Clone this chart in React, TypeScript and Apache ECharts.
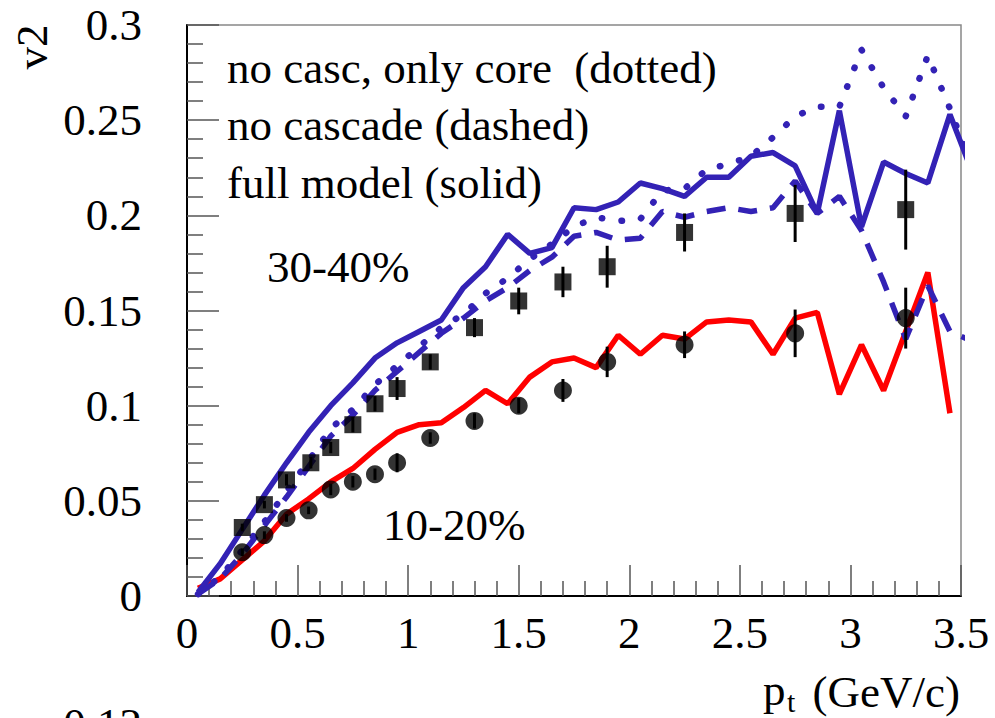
import React, { useEffect, useRef } from "react";
import * as echarts from "echarts";

// bin centres of the model histograms (GeV/c)
const binCenters = [
  0.05, 0.15, 0.25, 0.35, 0.45, 0.55, 0.65, 0.75, 0.85, 0.95,
  1.05, 1.15, 1.25, 1.35, 1.45, 1.55, 1.65, 1.75, 1.85, 1.95,
  2.05, 2.15, 2.25, 2.35, 2.45, 2.55, 2.65, 2.75, 2.85, 2.95,
  3.05, 3.15, 3.25, 3.35, 3.45, 3.55,
];

// 30-40% full model (solid blue)
const fullModel3040 = [
  0.002, 0.017, 0.035, 0.053, 0.070, 0.086, 0.100, 0.112, 0.125, 0.133,
  0.139, 0.145, 0.162, 0.173, 0.190, 0.180, 0.183, 0.204, 0.203, 0.207,
  0.217, 0.214, 0.210, 0.220, 0.220, 0.231, 0.233, 0.226, 0.201, 0.255,
  0.194, 0.228, 0.222, 0.217, 0.253, 0.223,
];

// 30-40% no cascade (dashed blue)
const noCascade3040 = [
  0.001, 0.009, 0.022, 0.037, 0.052, 0.068, 0.084, 0.095, 0.108, 0.118,
  0.128, 0.138, 0.146, 0.155, 0.162, 0.171, 0.178, 0.189, 0.191, 0.187,
  0.188, 0.202, 0.199, 0.202, 0.204, 0.202, 0.204, 0.218, 0.201, 0.210,
  0.192, 0.165, 0.135, 0.163, 0.139, 0.134,
];

// 30-40% no cascade, only core (dotted blue)
const onlyCore3040 = [
  0.001, 0.010, 0.024, 0.039, 0.055, 0.071, 0.088, 0.098, 0.111, 0.121,
  0.131, 0.141, 0.148, 0.159, 0.167, 0.177, 0.185, 0.194, 0.199, 0.197,
  0.198, 0.213, 0.214, 0.224, 0.227, 0.231, 0.241, 0.252, 0.257, 0.257,
  0.287, 0.267, 0.252, 0.284, 0.256, 0.225,
];

// 10-20% full model (solid red)
const fullModel1020 = [
  0.004, 0.009, 0.019, 0.029, 0.043, 0.051, 0.060, 0.067, 0.077, 0.086,
  0.090, 0.091, 0.099, 0.108, 0.101, 0.115, 0.123, 0.125, 0.120, 0.137,
  0.127, 0.137, 0.135, 0.144, 0.145, 0.144, 0.127, 0.146, 0.149, 0.106,
  0.132, 0.108, 0.139, 0.170, 0.096,
];

// data 30-40% (squares)
const squareX = [0.25, 0.35, 0.45, 0.56, 0.65, 0.75, 0.85, 0.95, 1.1, 1.3, 1.5, 1.7, 1.9, 2.25, 2.75, 3.25];
const squareY = [0.036, 0.048, 0.061, 0.070, 0.078, 0.090, 0.101, 0.109, 0.123, 0.141, 0.155, 0.165, 0.173, 0.191, 0.201, 0.203];
const squareErr = [0.002, 0.002, 0.003, 0.003, 0.003, 0.004, 0.004, 0.006, 0.004, 0.005, 0.007, 0.008, 0.011, 0.010, 0.015, 0.021];

// data 10-20% (circles)
const circleX = [0.25, 0.35, 0.45, 0.55, 0.65, 0.75, 0.85, 0.95, 1.1, 1.3, 1.5, 1.7, 1.9, 2.25, 2.75, 3.25];
const circleY = [0.023, 0.032, 0.041, 0.045, 0.056, 0.060, 0.064, 0.070, 0.083, 0.092, 0.100, 0.108, 0.123, 0.132, 0.138, 0.146];
const circleErr = [0.002, 0.002, 0.002, 0.002, 0.003, 0.003, 0.003, 0.005, 0.003, 0.004, 0.004, 0.006, 0.008, 0.007, 0.0125, 0.016];

const legendLines = ["no casc, only core  (dotted)", "no cascade (dashed)", "full model (solid)"];

const FONT = "'Liberation Serif', 'Times New Roman', serif";
const BLUE = "#3322b5";
const RED = "#ff0000";

const pairs = (xs: number[], ys: number[]) => ys.map((y, i) => [xs[i], y]);
const fmt = (v: number) => String(parseFloat(v.toFixed(2)));

const errorSeries = (xs: number[], ys: number[], es: number[]) => ({
  type: "custom",
  z: 5,
  data: ys.map((y, i) => [xs[i], y, es[i]]),
  encode: { x: 0, y: 1 },
  renderItem: (_p: any, api: any) => {
    const x = api.value(0);
    const y = api.value(1);
    const e = api.value(2);
    const a = api.coord([x, y - e]);
    const b = api.coord([x, y + e]);
    return {
      type: "line",
      shape: { x1: a[0], y1: a[1], x2: b[0], y2: b[1] },
      style: { stroke: "#000", lineWidth: 3 },
    };
  },
});

export default function App() {
  const ref = useRef<HTMLDivElement>(null);
  useEffect(() => {
    if (!ref.current) return;
    const chart = echarts.init(ref.current, null, { renderer: "svg" });
    const tickStyle = { color: "#555", width: 1.5 };
    chart.setOption({
      animation: false,
      backgroundColor: "#fff",
      grid: {
        left: 187,
        right: 34,
        top: 25,
        bottom: 122,
        show: true,
        borderColor: "#888",
        borderWidth: 1.5,
        outerBoundsMode: "none",
      },
      xAxis: {
        type: "value",
        min: 0,
        max: 3.5,
        interval: 0.5,
        axisLine: { lineStyle: { color: "#000", width: 2 } },
        axisTick: { inside: true, length: 31, lineStyle: tickStyle },
        minorTick: { show: true, splitNumber: 5, length: 15, lineStyle: tickStyle },
        splitLine: { show: false },
        minorSplitLine: { show: false },
        axisLabel: {
          fontFamily: FONT,
          fontSize: 45,
          color: "#000",
          margin: 14,
          formatter: fmt,
        },
      },
      yAxis: {
        type: "value",
        min: 0,
        max: 0.3,
        interval: 0.05,
        axisLine: { lineStyle: { color: "#000", width: 2 } },
        axisTick: { inside: true, length: 32, lineStyle: tickStyle },
        minorTick: { show: true, splitNumber: 5, length: 16, lineStyle: tickStyle },
        splitLine: { show: false },
        minorSplitLine: { show: false },
        axisLabel: {
          fontFamily: FONT,
          fontSize: 45,
          color: "#000",
          margin: 45,
          formatter: fmt,
        },
      },
      series: [
        {
          name: "10-20% full model",
          type: "line",
          data: pairs(binCenters, fullModel1020),
          showSymbol: false,
          symbol: "none",
          z: 2,
          lineStyle: { color: RED, width: 5.5 },
        },
        {
          name: "30-40% only core",
          type: "line",
          data: pairs(binCenters, onlyCore3040),
          showSymbol: false,
          symbol: "none",
          z: 2,
          lineStyle: { color: BLUE, width: 6.5, type: [0.5, 19.5], cap: "round" },
        },
        {
          name: "30-40% full model",
          type: "line",
          data: pairs(binCenters, fullModel3040),
          showSymbol: false,
          symbol: "none",
          z: 3,
          lineStyle: { color: BLUE, width: 5.5 },
        },
        {
          name: "30-40% no cascade",
          type: "line",
          data: pairs(binCenters, noCascade3040),
          showSymbol: false,
          symbol: "none",
          z: 3,
          lineStyle: { color: BLUE, width: 5.5, type: [19, 13] },
        },
        errorSeries(squareX, squareY, squareErr),
        errorSeries(circleX, circleY, circleErr),
        {
          name: "30-40% data",
          type: "scatter",
          z: 6,
          symbol: "rect",
          symbolSize: 17,
          itemStyle: { color: "#000" },
          data: pairs(squareX, squareY),
        },
        {
          name: "10-20% data",
          type: "scatter",
          z: 6,
          symbol: "circle",
          symbolSize: 18,
          itemStyle: { color: "#000" },
          data: pairs(circleX, circleY),
        },
      ],
      graphic: [
        ...legendLines.map((t, i) => ({
          type: "text",
          left: 227,
          top: [67, 124, 182][i] - 22,
          z: 10,
          style: { text: t, fontFamily: FONT, fontSize: 45, fill: "#000", whiteSpace: "pre" },
        })),
        {
          type: "text",
          x: 267,
          y: 267,
          z: 10,
          style: { text: "30-40%", fontFamily: FONT, fontSize: 45, fill: "#000", verticalAlign: "middle" },
        },
        {
          type: "text",
          x: 383,
          y: 525,
          z: 10,
          style: { text: "10-20%", fontFamily: FONT, fontSize: 45, fill: "#000", verticalAlign: "middle" },
        },
        {
          type: "text",
          x: 32,
          y: 47,
          rotation: Math.PI / 2,
          z: 10,
          style: { text: "v2", fontFamily: FONT, fontSize: 45, fill: "#000", align: "center", verticalAlign: "middle" },
        },
        {
          type: "text",
          x: 763,
          y: 690,
          z: 10,
          style: { text: "p", fontFamily: FONT, fontSize: 45, fill: "#000", align: "left", verticalAlign: "middle" },
        },
        {
          type: "text",
          x: 787,
          y: 701,
          z: 10,
          style: { text: "t", fontFamily: FONT, fontSize: 30, fill: "#000", align: "left", verticalAlign: "middle" },
        },
        {
          type: "text",
          x: 960,
          y: 692,
          z: 10,
          style: { text: "(GeV/c)", fontFamily: FONT, fontSize: 45, fill: "#000", align: "right", verticalAlign: "middle" },
        },
        {
          type: "text",
          x: 142,
          y: 724,
          z: 10,
          style: { text: "0.12", fontFamily: FONT, fontSize: 45, fill: "#000", align: "right", verticalAlign: "middle" },
        },
      ],
    });
    return () => chart.dispose();
  }, []);
  return (
    <div
      ref={ref}
      style={{ position: "fixed", left: 0, top: 0, width: 995, height: 718, background: "#fff" }}
    />
  );
}
